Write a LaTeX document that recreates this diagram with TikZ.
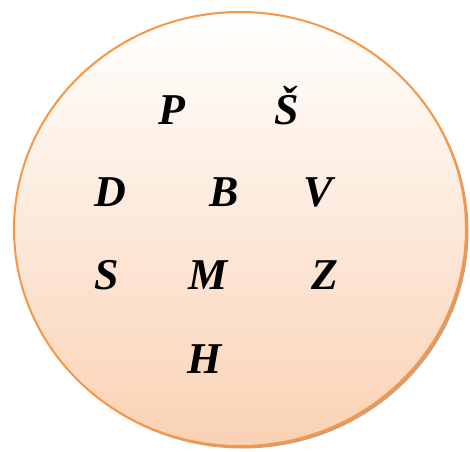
\documentclass[tikz,border=0pt]{standalone}
\usepackage{fontspec}
\setmainfont{Liberation Serif}
\definecolor{rimorange}{RGB}{247,150,70}
\definecolor{fillpeach}{RGB}{250,210,180}
\definecolor{shadowbrown}{RGB}{205,160,125}
\tikzset{
  letter/.style={font=\fontsize{44}{50}\selectfont\bfseries\itshape, text=black, inner sep=0pt, anchor=base},
}
\begin{document}
\begin{tikzpicture}[x=1pt,y=1pt]
\useasboundingbox (0,0) rectangle (470,451);
\fill[shadowbrown] (242.5,219.5) ellipse [x radius=226, y radius=217];
\shade[top color=white, bottom color=fillpeach, draw=rimorange, line width=2pt] (240,222) ellipse [x radius=226, y radius=217];
\node[letter] (P) at (172,327) {P};
\node[letter] (Sv) at (287,327) {Š};
\node[letter] (D) at (110,245) {D};
\node[letter] (B) at (224,245) {B};
\node[letter] (V) at (318,245) {V};
\node[letter] (S) at (107,162) {S};
\node[letter] (M) at (208,162) {M};
\node[letter] (Z) at (325,162) {Z};
\node[letter] (H) at (205,78) {H};
\end{tikzpicture}
\end{document}
